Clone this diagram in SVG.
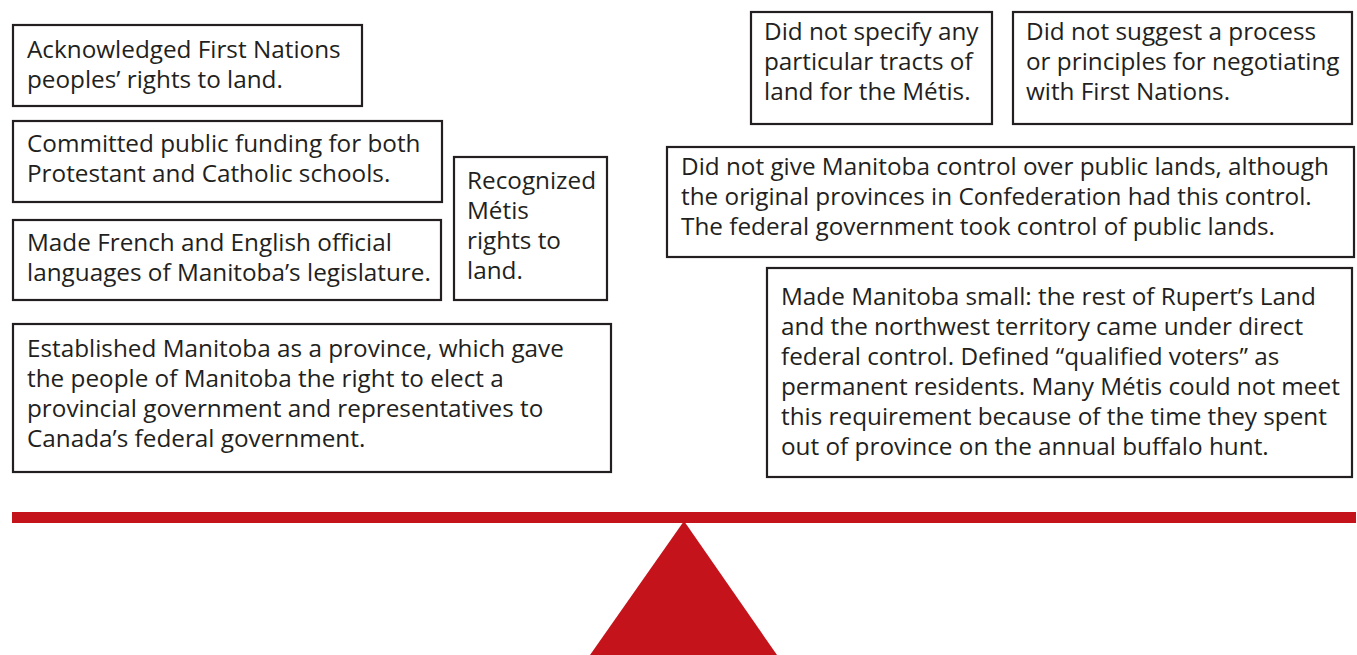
<svg xmlns="http://www.w3.org/2000/svg" width="1357" height="655" viewBox="0 0 1357 655">
  <style>
    .box { fill: #ffffff; stroke: #231f20; stroke-width: 2.2; }
    .t { font-family: "Open Sans", "Liberation Sans", sans-serif; font-size: 24.3px; fill: #231f20; }
    .red { fill: #c4131b; }
  </style>
  <rect width="1357" height="655" fill="#ffffff"/>

  <!-- left side: provisions granted -->
  <g id="first-nations-rights">
    <rect class="box" x="13" y="25" width="349" height="81"/>
    <text class="t" x="27" y="58">Acknowledged First Nations</text>
    <text class="t" x="27" y="88">peoples’ rights to land.</text>
  </g>
  <g id="school-funding">
    <rect class="box" x="13" y="121" width="429" height="81"/>
    <text class="t" x="27" y="152">Committed public funding for both</text>
    <text class="t" x="27" y="182">Protestant and Catholic schools.</text>
  </g>
  <g id="official-languages">
    <rect class="box" x="13" y="220" width="428" height="80"/>
    <text class="t" x="27" y="251">Made French and English official</text>
    <text class="t" x="27" y="281">languages of Manitoba’s legislature.</text>
  </g>
  <g id="metis-rights">
    <rect class="box" x="454" y="157" width="153" height="143"/>
    <text class="t" x="467" y="189">Recognized</text>
    <text class="t" x="467" y="219">Métis</text>
    <text class="t" x="467" y="249">rights to</text>
    <text class="t" x="467" y="279">land.</text>
  </g>
  <g id="province-established">
    <rect class="box" x="13" y="324" width="598" height="148"/>
    <text class="t" x="27" y="357">Established Manitoba as a province, which gave</text>
    <text class="t" x="27" y="387">the people of Manitoba the right to elect a</text>
    <text class="t" x="27" y="417">provincial government and representatives to</text>
    <text class="t" x="27" y="447">Canada’s federal government.</text>
  </g>

  <!-- right side: shortcomings -->
  <g id="metis-tracts">
    <rect class="box" x="751" y="12" width="241" height="112"/>
    <text class="t" x="764" y="40">Did not specify any</text>
    <text class="t" x="764" y="70">particular tracts of</text>
    <text class="t" x="764" y="100">land for the Métis.</text>
  </g>
  <g id="negotiation-process">
    <rect class="box" x="1013" y="12" width="339" height="112"/>
    <text class="t" x="1026" y="40">Did not suggest a process</text>
    <text class="t" x="1026" y="70">or principles for negotiating</text>
    <text class="t" x="1026" y="100">with First Nations.</text>
  </g>
  <g id="public-lands">
    <rect class="box" x="667" y="147" width="687" height="110"/>
    <text class="t" x="681" y="175">Did not give Manitoba control over public lands, although</text>
    <text class="t" x="681" y="205">the original provinces in Confederation had this control.</text>
    <text class="t" x="681" y="235">The federal government took control of public lands.</text>
  </g>
  <g id="small-province">
    <rect class="box" x="767" y="268" width="585" height="209"/>
    <text class="t" x="781" y="305">Made Manitoba small: the rest of Rupert’s Land</text>
    <text class="t" x="781" y="335">and the northwest territory came under direct</text>
    <text class="t" x="781" y="365">federal control. Defined “qualified voters” as</text>
    <text class="t" x="781" y="395">permanent residents. Many Métis could not meet</text>
    <text class="t" x="781" y="425">this requirement because of the time they spent</text>
    <text class="t" x="781" y="455">out of province on the annual buffalo hunt.</text>
  </g>

  <!-- balance scale: beam and fulcrum -->
  <g id="scale">
    <rect class="red" x="12" y="512" width="1344" height="11"/>
    <polygon class="red" points="684,521 777,655 590,655"/>
  </g>
</svg>
